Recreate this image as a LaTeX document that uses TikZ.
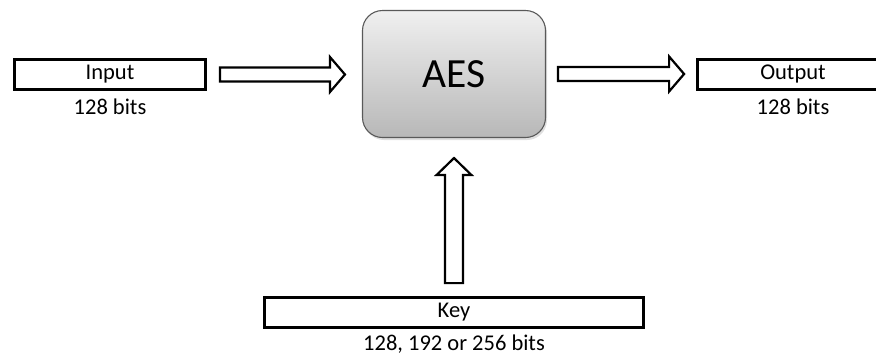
\documentclass[tikz,border=0pt]{standalone}
\usepackage{fontspec}
\setmainfont{Carlito}
\usetikzlibrary{calc,shadows}

\tikzset{
  databox/.style={draw=black, line width=2.8pt, fill=white, inner sep=0pt,
    minimum height=30pt, font=\fontsize{22.5}{26}\selectfont},
  caption/.style={inner sep=0pt, font=\fontsize{22.5}{26}\selectfont},
  cipher/.style={draw=black!65, line width=1.1pt, rounded corners=20pt,
    top color=black!6, bottom color=black!28, inner sep=0pt,
    minimum width=183pt, minimum height=127pt,
    font=\fontsize{41.5}{46}\selectfont,
    drop shadow={opacity=0.25, shadow xshift=1.5pt, shadow yshift=-2.5pt}},
  hollow/.style={draw=black, line width=2.2pt, fill=white, line join=miter}
}

% hollow block arrow pointing right: #1 tail centre, #2 tip
\newcommand\blockarrowright[2]{%
  \draw[hollow] let \p1=(#1), \p2=(#2) in
    (\x1,\y1+7pt) -- (\x2-15pt,\y1+7pt) -- (\x2-15pt,\y1+17.5pt) -- (\x2,\y1)
    -- (\x2-15pt,\y1-17.5pt) -- (\x2-15pt,\y1-7pt) -- (\x1,\y1-7pt) -- cycle;}
% hollow block arrow pointing up: #1 tail centre, #2 tip
\newcommand\blockarrowup[2]{%
  \draw[hollow] let \p1=(#1), \p2=(#2) in
    (\x1-9pt,\y1) -- (\x1-9pt,\y2-17pt) -- (\x1-17.5pt,\y2-17pt) -- (\x1,\y2)
    -- (\x1+17.5pt,\y2-17pt) -- (\x1+9pt,\y2-17pt) -- (\x1+9pt,\y1) -- cycle;}

\begin{document}
\begin{tikzpicture}[x=1pt,y=-1pt]
  \useasboundingbox (0,0) rectangle (876,357);
  \clip (0,0) rectangle (876,357);

  % cipher block
  \node[cipher] (aes) at (454,74) {AES};

  % input, output and key blocks
  \node[databox, minimum width=191pt] (in)  at (110,74.5) {Input};
  \node[caption] (inbits) at (110,107) {128 bits};

  \node[databox, minimum width=191pt] (out) at (793,74.5) {Output};
  \node[caption] (outbits) at (793,107) {128 bits};

  \node[databox, minimum width=379pt] (key) at (454,312.5) {Key};
  \node[caption] (keybits) at (454,344) {128, 192 or 256 bits};

  % data flow
  \coordinate (a1s) at ($(in.east)+(13,0)$);
  \coordinate (a1e) at ($(aes.west)+(-17,0)$);
  \coordinate (a2s) at ($(aes.east)+(12,0)$);
  \coordinate (a2e) at ($(out.west)+(-12,0)$);
  \coordinate (a3s) at ($(key.north)+(0,-13)$);
  \coordinate (a3e) at ($(aes.south)+(0,20)$);
  \blockarrowright{a1s}{a1e}
  \blockarrowright{a2s}{a2e}
  \blockarrowup{a3s}{a3e}
\end{tikzpicture}
\end{document}
